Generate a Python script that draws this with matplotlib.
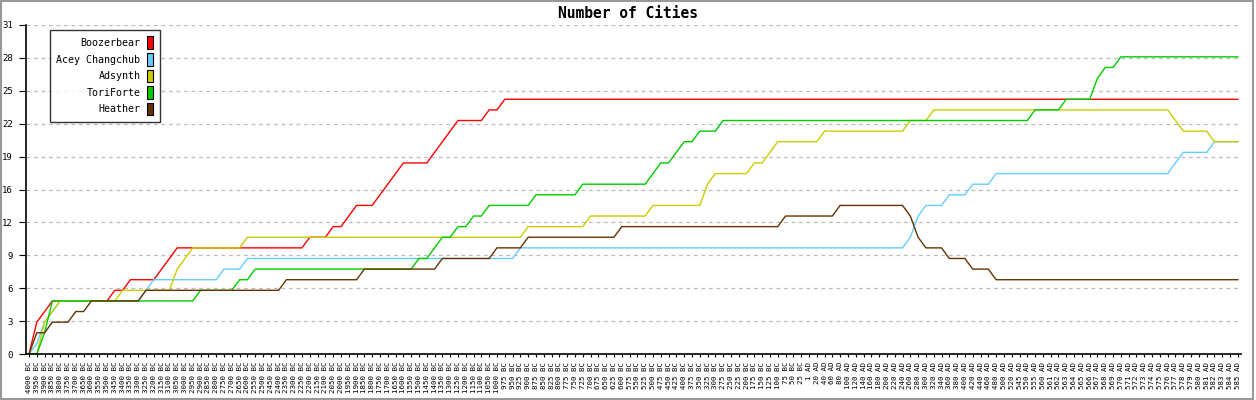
import numpy as np
import matplotlib
matplotlib.use("Agg")
import matplotlib.pyplot as plt
from matplotlib.patches import Patch, Rectangle

# Etiquetas del eje x
labels = ([f"{y} BC" for y in range(4000, 999, -50)]
          + [f"{y} BC" for y in range(975, 24, -25)]
          + ["1 AD"]
          + [f"{y} AD" for y in range(20, 521, 20)]
          + ["545 AD", "550 AD", "555 AD", "560 AD"]
          + [f"{y} AD" for y in range(561, 586)])

# Series (numero de ciudades)
boozerbear = [0, 3, 4, 5, 5, 5, 5, 5, 5, 5,
              5, 6, 6, 7, 7, 7, 7, 8, 9, 10,
              10, 10, 10, 10, 10, 10, 10, 10, 10, 10,
              10, 10, 10, 10, 10, 10, 11, 11, 11, 12,
              12, 13, 14, 14, 14, 15, 16, 17, 18, 18,
              18, 18, 19, 20, 21, 22, 22, 22, 22, 23,
              23, 24, 24, 24, 24, 24, 24, 24, 24, 24,
              24, 24, 24, 24, 24, 24, 24, 24, 24, 24,
              24, 24, 24, 24, 24, 24, 24, 24, 24, 24,
              24, 24, 24, 24, 24, 24, 24, 24, 24, 24,
              24, 24, 24, 24, 24, 24, 24, 24, 24, 24,
              24, 24, 24, 24, 24, 24, 24, 24, 24, 24,
              24, 24, 24, 24, 24, 24, 24, 24, 24, 24,
              24, 24, 24, 24, 24, 24, 24, 24, 24, 24,
              24, 24, 24, 24, 24, 24, 24, 24, 24, 24,
              24, 24, 24, 24, 24, 24]

acey = [0, 1, 3, 4, 5, 5, 5, 5, 5, 5,
        5, 5, 5, 5, 5, 6, 7, 7, 7, 7,
        7, 7, 7, 7, 7, 8, 8, 8, 9, 9,
        9, 9, 9, 9, 9, 9, 9, 9, 9, 9,
        9, 9, 9, 9, 9, 9, 9, 9, 9, 9,
        9, 9, 9, 9, 9, 9, 9, 9, 9, 9,
        9, 9, 9, 10, 10, 10, 10, 10, 10, 10,
        10, 10, 10, 10, 10, 10, 10, 10, 10, 10,
        10, 10, 10, 10, 10, 10, 10, 10, 10, 10,
        10, 10, 10, 10, 10, 10, 10, 10, 10, 10,
        10, 10, 10, 10, 10, 10, 10, 10, 10, 10,
        10, 10, 10, 11, 13, 14, 14, 14, 15, 15,
        15, 16, 16, 16, 17, 17, 17, 17, 17, 17,
        17, 17, 17, 17, 17, 17, 17, 17, 17, 17,
        17, 17, 17, 17, 17, 17, 17, 18, 19, 19,
        19, 19, 20, 20, 20, 20]

adsynth = [0, 0, 3, 4, 5, 5, 5, 5, 5, 5,
           5, 5, 6, 6, 6, 6, 6, 6, 6, 8,
           9, 10, 10, 10, 10, 10, 10, 10, 11, 11,
           11, 11, 11, 11, 11, 11, 11, 11, 11, 11,
           11, 11, 11, 11, 11, 11, 11, 11, 11, 11,
           11, 11, 11, 11, 11, 11, 11, 11, 11, 11,
           11, 11, 11, 11, 12, 12, 12, 12, 12, 12,
           12, 12, 13, 13, 13, 13, 13, 13, 13, 13,
           14, 14, 14, 14, 14, 14, 14, 16, 17, 17,
           17, 17, 17, 18, 18, 19, 20, 20, 20, 20,
           20, 20, 21, 21, 21, 21, 21, 21, 21, 21,
           21, 21, 21, 22, 22, 22, 23, 23, 23, 23,
           23, 23, 23, 23, 23, 23, 23, 23, 23, 23,
           23, 23, 23, 23, 23, 23, 23, 23, 23, 23,
           23, 23, 23, 23, 23, 23, 23, 22, 21, 21,
           21, 21, 20, 20, 20, 20]

toriforte = [0, 0, 2, 5, 5, 5, 5, 5, 5, 5,
             5, 5, 5, 5, 5, 5, 5, 5, 5, 5,
             5, 5, 6, 6, 6, 6, 6, 7, 7, 8,
             8, 8, 8, 8, 8, 8, 8, 8, 8, 8,
             8, 8, 8, 8, 8, 8, 8, 8, 8, 8,
             9, 9, 10, 11, 11, 12, 12, 13, 13, 14,
             14, 14, 14, 14, 14, 15, 15, 15, 15, 15,
             15, 16, 16, 16, 16, 16, 16, 16, 16, 16,
             17, 18, 18, 19, 20, 20, 21, 21, 21, 22,
             22, 22, 22, 22, 22, 22, 22, 22, 22, 22,
             22, 22, 22, 22, 22, 22, 22, 22, 22, 22,
             22, 22, 22, 22, 22, 22, 22, 22, 22, 22,
             22, 22, 22, 22, 22, 22, 22, 22, 22, 23,
             23, 23, 23, 24, 24, 24, 24, 26, 27, 27,
             28, 28, 28, 28, 28, 28, 28, 28, 28, 28,
             28, 28, 28, 28, 28, 28]

heather = [0, 2, 2, 3, 3, 3, 4, 4, 5, 5,
           5, 5, 5, 5, 5, 6, 6, 6, 6, 6,
           6, 6, 6, 6, 6, 6, 6, 6, 6, 6,
           6, 6, 6, 7, 7, 7, 7, 7, 7, 7,
           7, 7, 7, 8, 8, 8, 8, 8, 8, 8,
           8, 8, 8, 9, 9, 9, 9, 9, 9, 9,
           10, 10, 10, 10, 11, 11, 11, 11, 11, 11,
           11, 11, 11, 11, 11, 11, 12, 12, 12, 12,
           12, 12, 12, 12, 12, 12, 12, 12, 12, 12,
           12, 12, 12, 12, 12, 12, 12, 13, 13, 13,
           13, 13, 13, 13, 14, 14, 14, 14, 14, 14,
           14, 14, 14, 13, 11, 10, 10, 10, 9, 9,
           9, 8, 8, 8, 7, 7, 7, 7, 7, 7,
           7, 7, 7, 7, 7, 7, 7, 7, 7, 7,
           7, 7, 7, 7, 7, 7, 7, 7, 7, 7,
           7, 7, 7, 7, 7, 7]

names = ["Boozerbear", "Acey Changchub", "Adsynth", "ToriForte", "Heather"]
series = [boozerbear, acey, adsynth, toriforte, heather]
colors = ["#ff0000", "#66ccff", "#cccc00", "#00cc00", "#663300"]

mono = "DejaVu Sans Mono"

fig = plt.figure(figsize=(12.56, 4.0), dpi=100)
ax = fig.add_axes([25.5 / 1256, 46 / 400, (1241 - 25.5) / 1256, (354 - 25) / 400])

x = np.arange(len(labels))
for vals, c in zip(series, colors):
    ax.plot(x, vals, color=c, lw=1.0, solid_joinstyle="miter")

ax.set_xlim(-0.45, 155.4)
ax.set_ylim(0, 31)

yt = [k * 3.1 for k in range(11)]
ax.set_yticks(yt)
ax.set_yticklabels([str(int(round(v))) for v in yt], fontfamily=mono, fontsize=6.5)
ax.set_xticks(x)
ax.set_xticklabels(labels, rotation=90, fontfamily=mono, fontsize=5.4)
ax.tick_params(axis="x", length=2, width=0.8, pad=3.5)
ax.tick_params(axis="y", length=5, width=0.8, pad=4)

for v in yt[1:]:
    ax.axhline(v, color="#bbbbbb", lw=0.9, ls=(0, (3, 3)), zorder=0)

for s in ["top", "right"]:
    ax.spines[s].set_visible(False)
ax.spines["left"].set_linewidth(1.2)
ax.spines["bottom"].set_linewidth(1.2)

fig.text(0.5, 1 - 13 / 400, "Number of Cities", ha="center", va="center",
         fontfamily=mono, fontweight="bold", fontsize=10.5)

handles = [Patch(facecolor=c, edgecolor="black", lw=0.8) for c in colors]
leg = ax.legend(handles, names, loc="upper left", bbox_to_anchor=(50 / 1256, 1 - 30 / 400),
                bbox_transform=fig.transFigure, markerfirst=False, frameon=True,
                fancybox=False, edgecolor="black", prop={"family": mono, "size": 7.2},
                handlelength=0.6, handleheight=1.55, handletextpad=0.65, labelspacing=0.4,
                borderpad=0.65, borderaxespad=0)
leg.get_frame().set_linewidth(1.0)

# Marco gris de la figura
fig.patches.append(Rectangle((0.001, 0.002), 0.997, 0.996, transform=fig.transFigure,
                             fill=False, edgecolor="#999999", lw=1.5))

fig.savefig("out.png", dpi=100)
